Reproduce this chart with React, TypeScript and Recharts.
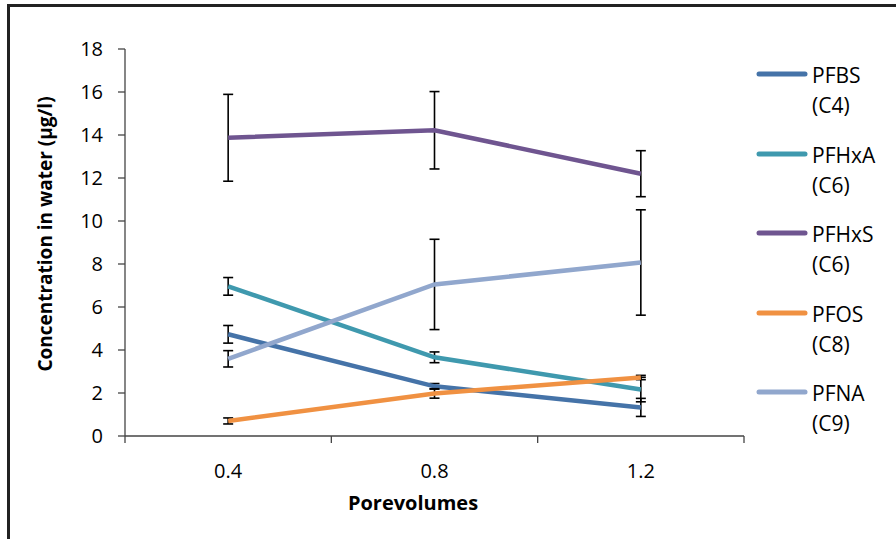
import React from 'react'
import {
  ComposedChart,
  Line,
  ErrorBar,
  XAxis,
  YAxis,
  Legend
} from 'recharts'

// porevolumes (x) and measured concentrations (µg/l) with error (±)
const porevolumes = [0.4, 0.8, 1.2]
const pfbs = [4.73, 2.31, 1.33]
const pfbsErr = [0.41, 0.13, 0.42]
const pfhxa = [6.96, 3.66, 2.16]
const pfhxaErr = [0.41, 0.25, 0.57]
const pfhxs = [13.87, 14.22, 12.2]
const pfhxsErr = [2.02, 1.8, 1.07]
const pfos = [0.7, 1.98, 2.72]
const pfosErr = [0.14, 0.22, 0.1]
const pfna = [3.59, 7.05, 8.07]
const pfnaErr = [0.38, 2.1, 2.45]

const seriesNames = ['PFBS (C4)', 'PFHxA (C6)', 'PFHxS (C6)', 'PFOS (C8)', 'PFNA (C9)']
const yTicks = [0, 2, 4, 6, 8, 10, 12, 14, 16, 18]
const xLabelTicks = [0.4, 0.8, 1.2]
const xBoundaryTicks = [0.2, 0.6, 1.0, 1.4]

const series = [
  { key: 'pfbs', err: 'pfbsErr', name: seriesNames[0], color: '#4573a8' },
  { key: 'pfhxa', err: 'pfhxaErr', name: seriesNames[1], color: '#3f99ae' },
  { key: 'pfhxs', err: 'pfhxsErr', name: seriesNames[2], color: '#6f5590' },
  { key: 'pfos', err: 'pfosErr', name: seriesNames[3], color: '#f09142' },
  { key: 'pfna', err: 'pfnaErr', name: seriesNames[4], color: '#91a7cd' }
]

const data = porevolumes.map((x, i) => ({
  x,
  pfbs: pfbs[i],
  pfbsErr: pfbsErr[i],
  pfhxa: pfhxa[i],
  pfhxaErr: pfhxaErr[i],
  pfhxs: pfhxs[i],
  pfhxsErr: pfhxsErr[i],
  pfos: pfos[i],
  pfosErr: pfosErr[i],
  pfna: pfna[i],
  pfnaErr: pfnaErr[i]
}))

const FONT = '"Open Sans", sans-serif'
const AXIS = '#444'
const TEXT = '#000'

const allXTicks = [...xBoundaryTicks, ...xLabelTicks].sort((a, b) => a - b)

function XTick(props: any) {
  const { x, y, payload } = props
  const v = Math.round(payload.value * 10) / 10
  if (xBoundaryTicks.some((b) => Math.abs(b - v) < 1e-6)) {
    return <line x1={x} y1={y} x2={x} y2={y + 7} stroke={AXIS} strokeWidth={1.3} />
  }
  return (
    <text x={x} y={y + 42} textAnchor='middle' fontFamily={FONT} fontSize={20} fill={TEXT}>
      {v.toFixed(1)}
    </text>
  )
}

function LegendContent(props: any) {
  // keep the series order, not alphabetical
  const items = [...(props.payload || [])].sort(
    (a: any, b: any) => seriesNames.indexOf(a.value) - seriesNames.indexOf(b.value)
  )
  return (
    <div style={{ fontFamily: FONT, fontSize: 21, color: TEXT }}>
      {items.map((it: any) => {
        const [a, b] = String(it.value).split(' ')
        return (
          <div key={it.value} style={{ position: 'relative', height: 79.5 }}>
            <svg width={52} height={8} style={{ position: 'absolute', left: 0, top: 10 }}>
              <line x1={3} y1={4} x2={49} y2={4} stroke={it.color} strokeWidth={5} strokeLinecap='round' />
            </svg>
            <div style={{ position: 'absolute', left: 56, top: 0, lineHeight: '30px' }}>
              <div>{a}</div>
              <div>{b}</div>
            </div>
          </div>
        )
      })}
    </div>
  )
}

export default function App() {
  return (
    <div style={{ position: 'absolute', left: 0, top: 0, width: 896, height: 539, background: '#fff', overflow: 'hidden' }}>
      <div
        style={{
          position: 'absolute',
          left: 7,
          top: 4,
          width: 1000,
          height: 700,
          borderLeft: '3px solid #222',
          borderTop: '3px solid #222'
        }}
      />
      <ComposedChart
        width={896}
        height={539}
        data={data}
        margin={{ top: 49, right: 152, left: 0, bottom: 43 }}
        style={{ position: 'absolute', left: 0, top: 0 }}
      >
        <XAxis
          dataKey='x'
          type='number'
          domain={[0.2, 1.4]}
          ticks={allXTicks}
          interval={0}
          tick={<XTick />}
          tickLine={false}
          tickSize={0}
          tickMargin={0}
          height={60}
          stroke={AXIS}
          strokeWidth={1.3}
        />
        <YAxis
          type='number'
          domain={[0, 18]}
          ticks={yTicks}
          interval={0}
          width={125}
          tickSize={7}
          tickMargin={15}
          stroke={AXIS}
          strokeWidth={1.3}
          tick={{ fontFamily: FONT, fontSize: 20, fill: TEXT }}
        />
        <Legend
          layout='vertical'
          align='center'
          verticalAlign='middle'
          itemSorter={null}
          content={<LegendContent />}
          wrapperStyle={{ left: 756, top: 60, width: 140 }}
        />
        {series.map((s) => (
          <Line
            key={s.key}
            type='linear'
            dataKey={s.key}
            name={s.name}
            stroke={s.color}
            strokeWidth={4.5}
            dot={false}
            activeDot={false}
            isAnimationActive={false}
          >
            <ErrorBar dataKey={s.err} direction='y' width={5} stroke='#000' strokeWidth={1.6} />
          </Line>
        ))}
      </ComposedChart>
      <div
        style={{
          position: 'absolute',
          left: 413,
          top: 502,
          transform: 'translate(-50%, -50%)',
          fontFamily: FONT,
          fontWeight: 700,
          fontSize: 20,
          color: TEXT,
          whiteSpace: 'nowrap'
        }}
      >
        Porevolumes
      </div>
      <div
        style={{
          position: 'absolute',
          left: 45,
          top: 234,
          transform: 'translate(-50%, -50%) rotate(-90deg)',
          fontFamily: FONT,
          fontWeight: 700,
          fontSize: 19,
          color: TEXT,
          whiteSpace: 'nowrap'
        }}
      >
        Concentration in water (µg/l)
      </div>
    </div>
  )
}
